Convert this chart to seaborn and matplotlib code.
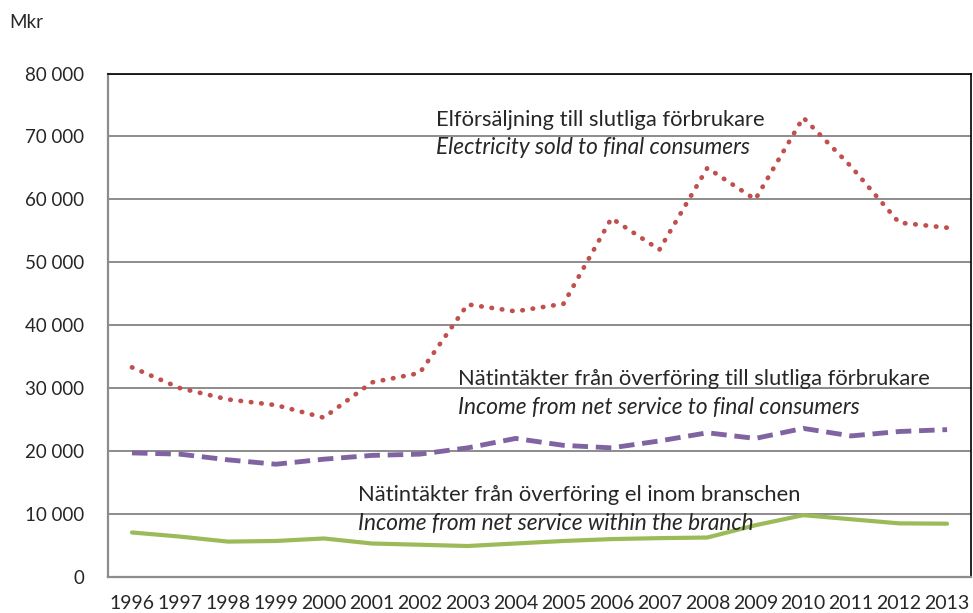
import pandas as pd
import matplotlib.pyplot as plt
import numpy as np
import seaborn as sns

# data (Mkr)
years = [str(y) for y in range(1996, 2014)]
elsales = [33300, 30000, 28200, 27300, 25300, 30900, 32400, 43300, 42200, 43400,
           57000, 52000, 65000, 60000, 73000, 65200, 56300, 55500]
net_final = [19700, 19500, 18600, 17900, 18700, 19300, 19500, 20500, 22000, 20900,
             20500, 21600, 22900, 22000, 23600, 22400, 23100, 23400]
net_branch = [7050, 6400, 5600, 5700, 6100, 5300, 5100, 4900, 5300, 5700,
              6000, 6150, 6250, 8200, 9800, 9150, 8500, 8450]
yticks = [0, 10000, 20000, 30000, 40000, 50000, 60000, 70000, 80000]

df = pd.DataFrame({'pos': np.arange(len(years)), 'year': years,
                   'el': elsales, 'final': net_final, 'branch': net_branch})

sns.set_style('white')
plt.rcParams['font.family'] = ['Lato', 'DejaVu Sans']

fig = plt.figure(figsize=(9.73, 6.13), dpi=100)
ax = fig.add_axes([0.111, 0.059, 0.887, 0.821])

sns.lineplot(data=df, x='pos', y='el', ax=ax, color='#C0504D', lw=3.4,
             linestyle=(0, (0.1, 2.1)))
sns.lineplot(data=df, x='pos', y='final', ax=ax, color='#8064A2', lw=3.5,
             linestyle=(0, (3.2, 1.6)))
sns.lineplot(data=df, x='pos', y='branch', ax=ax, color='#9BBB59', lw=3)
# round dots for the red line
ax.lines[0].set_dash_capstyle('round')

ax.set_xlim(-0.5, len(years) - 0.5)
ax.set_ylim(0, 80000)
ax.set_yticks(yticks)
ax.set_yticklabels([f'{v:,}'.replace(',', ' ') for v in yticks], fontsize=13.5)
ax.yaxis.grid(True, color='#8c8c8c', lw=1.4)
ax.set_axisbelow(True)

# category labels in centre, tick marks on boundaries
ax.set_xticks(df['pos'])
ax.set_xticklabels(years, fontsize=14)
ax.tick_params(axis='x', which='major', length=0, pad=13)
ax.set_xticks(np.arange(-0.5, len(years)), minor=True)
ax.tick_params(axis='x', which='minor', length=6, color='#8c8c8c', width=1.4, direction='out')
ax.tick_params(axis='y', length=7, color='#8c8c8c', width=1.4, direction='out', pad=10)
ax.set_xlabel('')
ax.set_ylabel('')

for s in ['left', 'bottom']:
    ax.spines[s].set_color('#8c8c8c')
    ax.spines[s].set_linewidth(1.6)
for s in ['top', 'right']:
    ax.spines[s].set_color('black')
    ax.spines[s].set_linewidth(1.2)

fs = 15.8
fi = 16.3
ax.text(6.35, 72650, 'Elförsäljning till slutliga förbrukare', fontsize=fs, va='center')
ax.text(6.35, 68200, 'Electricity sold to final consumers', fontsize=fi, va='center', style='italic')
ax.text(6.79, 31400, 'Nätintäkter från överföring till slutliga förbrukare', fontsize=fs, va='center')
ax.text(6.79, 26950, 'Income from net service to final consumers', fontsize=fi, va='center', style='italic')
ax.text(4.71, 12970, 'Nätintäkter från överföring el inom branschen', fontsize=fs, va='center')
ax.text(4.71, 8520, 'Income from net service within the branch', fontsize=fi, va='center', style='italic')

fig.text(0.01, 0.964, 'Mkr', fontsize=13.5, va='center')

fig.savefig('out.png', dpi=100)
